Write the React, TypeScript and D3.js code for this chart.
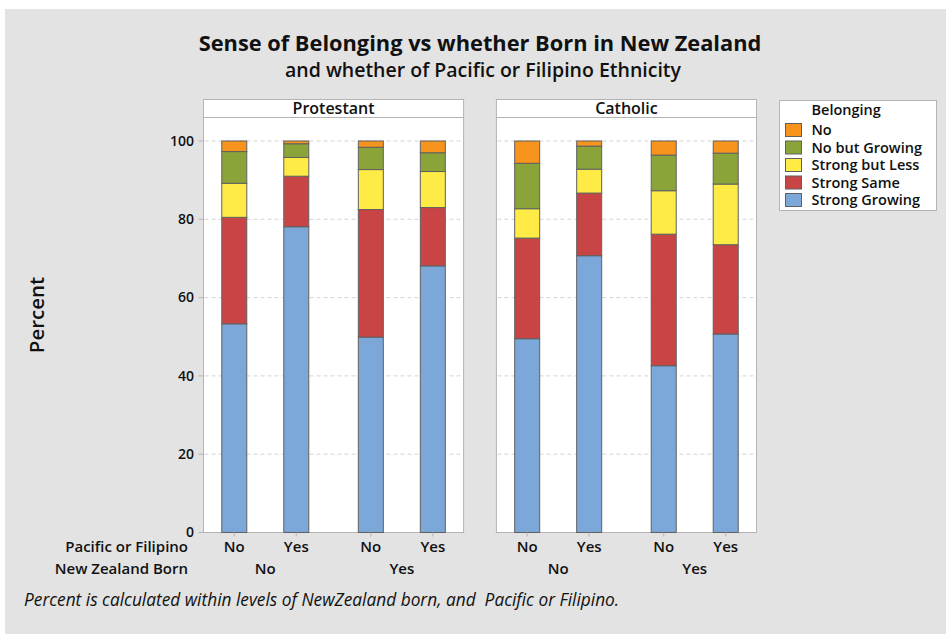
import React from "react";
import * as d3 from "d3";

// Stack order bottom -> top
const belonging = ["Strong Growing", "Strong Same", "Strong but Less", "No but Growing", "No"];
const religions = ["Protestant", "Catholic"];
const nzBorn = ["No", "Yes"];
const pacific = ["No", "Yes"];

// one value per bar: Protestant (NZ No/PF No, NZ No/PF Yes, NZ Yes/PF No, NZ Yes/PF Yes), then Catholic
const strongGrowing = [53.3, 78.1, 49.9, 68.1, 49.5, 70.7, 42.6, 50.7];
const strongSame = [27.2, 12.9, 32.6, 14.9, 25.7, 16.0, 33.6, 22.8];
const strongButLess = [8.7, 4.8, 10.2, 9.2, 7.5, 6.1, 11.1, 15.5];
const noButGrowing = [8.1, 3.5, 5.7, 4.8, 11.6, 5.9, 9.1, 7.9];
const no = [2.7, 0.7, 1.6, 3.0, 5.7, 1.3, 3.6, 3.1];

const yTicks = [0, 20, 40, 60, 80, 100];
const colors = ["#7ba7d9", "#c94545", "#ffeb46", "#8aa43a", "#f7941d"];

const FONT = "'Open Sans', 'Noto Sans', sans-serif";

export default function App() {
  const width = 946;
  const height = 634;

  const rows = religions.flatMap((rel, ri) =>
    nzBorn.flatMap((nz, ni) =>
      pacific.map((pf, pi) => {
        const i = ri * 4 + ni * 2 + pi;
        return {
          religion: rel,
          nz,
          pf,
          "Strong Growing": strongGrowing[i],
          "Strong Same": strongSame[i],
          "Strong but Less": strongButLess[i],
          "No but Growing": noButGrowing[i],
          No: no[i],
        };
      })
    )
  );

  const series = d3.stack<any>().keys(belonging)(rows);
  const color = d3.scaleOrdinal<string, string>().domain(belonging).range(colors);

  const panel = d3.scaleBand().domain(religions).range([203.5, 756.5]).paddingInner(0.112);
  const pw = panel.bandwidth();
  const group = d3.scalePoint().domain(nzBorn).range([0, pw]).padding(0.4524);
  const sub = d3.scalePoint().domain(pacific).range([-31, 31]);
  const barW = 25;

  const y = d3.scaleLinear().domain([0, 106]).range([532.5, 117.5]);
  const stripTop = 99.5;

  const xc = (d: any) => (panel(d.religion) as number) + (group(d.nz) as number) + (sub(d.pf) as number);

  return (
    <svg
      width={width}
      height={height}
      style={{ position: "absolute", left: 0, top: 0, fontFamily: FONT }}
    >
      <rect x={0} y={0} width={width} height={height} fill="#ffffff" />
      <rect x={5} y={9} width={width - 5} height={height - 9} fill="#e3e3e3" />

      {/* Title */}
      <text x={480} y={51} textAnchor="middle" fontSize={21.8} fontWeight={700} fill="#111">
        Sense of Belonging vs whether Born in New Zealand
      </text>
      <text x={483} y={77} textAnchor="middle" fontSize={19.5} fontWeight={600} fill="#111">
        and whether of Pacific or Filipino Ethnicity
      </text>

      {/* Panels */}
      {religions.map((rel) => {
        const x0 = panel(rel) as number;
        return (
          <g key={rel}>
            <rect x={x0} y={stripTop} width={pw} height={y(106) - stripTop} fill="#fff" stroke="#b4b4b4" />
            <text x={x0 + pw / 2} y={stripTop + 14} textAnchor="middle" fontSize={16} fontWeight={600} fill="#111">
              {rel}
            </text>
            <rect x={x0} y={y(106)} width={pw} height={y(0) - y(106)} fill="#fff" stroke="#b4b4b4" />
            {yTicks.filter((t) => t > 0).map((t) => (
              <line
                key={t}
                x1={x0 + 1}
                x2={x0 + pw - 1}
                y1={y(t)}
                y2={y(t)}
                stroke="#d4d4d4"
                strokeDasharray="4,3"
              />
            ))}
          </g>
        );
      })}

      {/* Bars */}
      {series.map((s) => (
        <g key={s.key} fill={color(s.key)}>
          {s.map((d, i) => (
            <rect
              key={i}
              x={xc(d.data) - barW / 2}
              y={y(d[1])}
              width={barW}
              height={y(d[0]) - y(d[1])}
              stroke="#606060"
              strokeWidth={1}
            />
          ))}
        </g>
      ))}

      {/* x tick marks */}
      {rows.map((d, i) => (
        <line key={i} x1={xc(d)} x2={xc(d)} y1={y(0)} y2={y(0) + 4} stroke="#b4b4b4" />
      ))}

      {/* Y axis */}
      {yTicks.map((t) => (
        <g key={t}>
          <line x1={198.5} x2={203.5} y1={y(t)} y2={y(t)} stroke="#b4b4b4" />
          <text x={194} y={y(t)} dy="0.35em" textAnchor="end" fontSize={14} fontWeight={600} fill="#111">
            {t}
          </text>
        </g>
      ))}
      <text
        transform={`translate(37,315) rotate(-90)`}
        textAnchor="middle"
        dy="0.35em"
        fontSize={20.5}
        fontWeight={600}
        fill="#111"
      >
        Percent
      </text>

      {/* X axis labels */}
      <text x={188} y={547} dy="0.35em" textAnchor="end" fontSize={15} fontWeight={600} fill="#111">
        Pacific or Filipino
      </text>
      <text x={188} y={569} dy="0.35em" textAnchor="end" fontSize={15} fontWeight={600} fill="#111">
        New Zealand Born
      </text>
      {rows.map((d, i) => (
        <text key={i} x={xc(d)} y={547} dy="0.35em" textAnchor="middle" fontSize={15} fontWeight={600} fill="#111">
          {d.pf}
        </text>
      ))}
      {religions.flatMap((rel) =>
        nzBorn.map((nz) => (
          <text
            key={rel + nz}
            x={(panel(rel) as number) + (group(nz) as number)}
            y={569}
            dy="0.35em"
            textAnchor="middle"
            fontSize={15}
            fontWeight={600}
            fill="#111"
          >
            {nz}
          </text>
        ))
      )}

      {/* Footnote */}
      <text x={24} y={606} fontSize={17.3} fontStyle="italic" fill="#111" style={{ whiteSpace: "pre" }}>
        {"Percent is calculated within levels of NewZealand born, and  Pacific or Filipino."}
      </text>

      {/* Legend */}
      <rect x={779.5} y={100.5} width={157} height={110} fill="#fff" stroke="#b4b4b4" />
      <text x={811.5} y={110} dy="0.35em" fontSize={14.5} fontWeight={600} fill="#111">
        Belonging
      </text>
      {belonging
        .slice()
        .reverse()
        .map((b, i) => (
          <g key={b} transform={`translate(785.5,${123.5 + i * 17.5})`}>
            <rect width={16} height={13} fill={color(b)} stroke="#606060" />
            <text x={26} y={6.5} dy="0.35em" fontSize={14.5} fontWeight={600} fill="#111">
              {b}
            </text>
          </g>
        ))}
    </svg>
  );
}
